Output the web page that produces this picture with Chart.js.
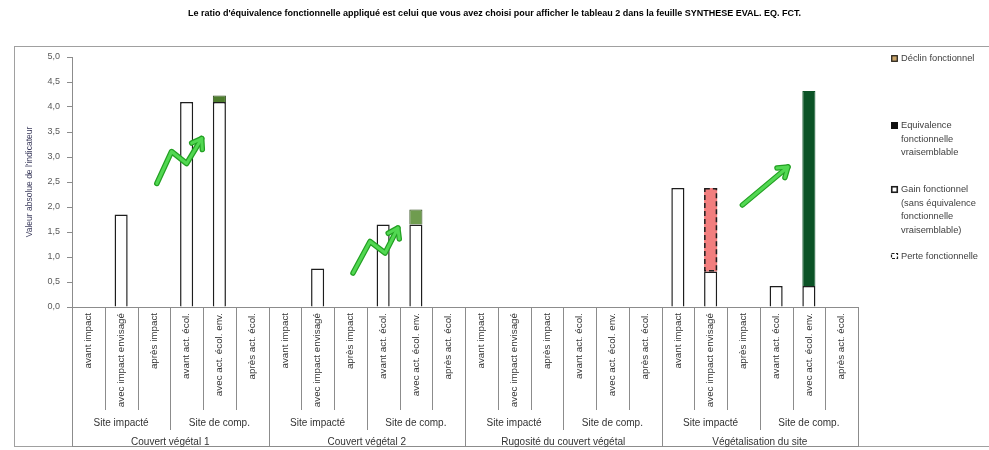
<!DOCTYPE html>
<html>
<head>
<meta charset="utf-8">
<script src="https://cdn.jsdelivr.net/npm/chart.js@4.4.1/dist/chart.umd.min.js"></script>
<style>
  html, body { margin: 0; padding: 0; background: #ffffff; }
  #wrap { width: 989px; height: 450px; }
</style>
</head>
<body>
<div id="wrap"><canvas id="chart" width="989" height="450"></canvas></div>
<script>
// ---- Data ----
const mainGroups = ['Couvert végétal 1', 'Couvert végétal 2', 'Rugosité du couvert végétal', 'Végétalisation du site'];
const siteGroups = ['Site impacté', 'Site de comp.'];
const stages = ['avant impact', 'avec impact envisagé', 'après impact', 'avant act. écol.', 'avec act. écol. env.', 'après act. écol.'];
const categories = mainGroups.flatMap(() => stages);

// Gain fonctionnel (sans équivalence fonctionnelle vraisemblable)
const gainValues = [
  0, 1.85, 0, 4.1, 4.1, 0,
  0, 0.77, 0, 1.65, 1.65, 0,
  0, 0, 0, 0, 0, 0,
  2.38, 0.71, 0, 0.42, 0.42, 0
];
// Perte fonctionnelle
const perteValues = [
  0, 0, 0, 0, 0, 0,
  0, 0, 0, 0, 0, 0,
  0, 0, 0, 0, 0, 0,
  0, 1.67, 0, 0, 0, 0
];
// Equivalence fonctionnelle vraisemblable
const equivValues = [
  0, 0, 0, 0, 0.13, 0,
  0, 0, 0, 0, 0.30, 0,
  0, 0, 0, 0, 0, 0,
  0, 0, 0, 0, 3.9, 0
];
// Déclin fonctionnel
const declinValues = [
  0, 0, 0, 0, 0, 0,
  0, 0, 0, 0, 0, 0,
  0, 0, 0, 0, 0, 0,
  0, 0, 0, 0, 0, 0
];
const yTickLabels = ['0,0', '0,5', '1,0', '1,5', '2,0', '2,5', '3,0', '3,5', '4,0', '4,5', '5,0'];

const titleText = "Le ratio d'équivalence fonctionnelle appliqué est celui que vous avez choisi pour afficher le tableau 2 dans la feuille SYNTHESE EVAL. EQ. FCT.";
const yTitle = "Valeur absolue de l'indicateur";

// Trend arrows, as [category index, value] points along each stroke
const trendArrows = [
  [[2.09, 2.47], [2.54, 3.11], [3.0, 2.87], [3.46, 3.37]],
  [[8.08, 0.68], [8.6, 1.31], [9.06, 1.08], [9.45, 1.58]],
  [[19.97, 2.04], [21.36, 2.8]]
];

// ---- Styles ----
const FONT = "'Liberation Sans', Arial, sans-serif";
const LINE = '#8c8c8c';
const TEXT = '#333333';
const equivColors = categories.map((c, i) => (i < 18 ? (i < 6 ? '#4d7d2d' : '#6f9c4f') : '#0b5326'));
const equivBorders = categories.map((c, i) => (i < 18 ? '#2c4a1a' : '#0b5326'));

const datasets = [
  {
    label: 'Gain fonctionnel (sans équivalence fonctionnelle vraisemblable)',
    legendLines: ['Gain fonctionnel', '(sans équivalence', 'fonctionnelle', 'vraisemblable)'],
    data: gainValues,
    backgroundColor: '#ffffff',
    borderColor: '#1e1e1e',
    borderWidth: 1.5
  },
  {
    label: 'Perte fonctionnelle',
    legendLines: ['Perte fonctionnelle'],
    data: perteValues,
    backgroundColor: '#f27e7e',
    borderColor: '#1e1e1e',
    borderWidth: 0
  },
  {
    label: 'Equivalence fonctionnelle vraisemblable',
    legendLines: ['Equivalence', 'fonctionnelle', 'vraisemblable'],
    data: equivValues,
    backgroundColor: equivColors,
    borderColor: equivBorders,
    borderWidth: 1
  },
  {
    label: 'Déclin fonctionnel',
    legendLines: ['Déclin fonctionnel'],
    data: declinValues,
    backgroundColor: '#c9a56a',
    borderColor: '#1e1e1e',
    borderWidth: 1
  }
];

// Dashed outline around the loss segments
const dashedLoss = {
  id: 'dashedLoss',
  afterDatasetsDraw(chart) {
    const ctx = chart.ctx;
    const meta = chart.getDatasetMeta(1);
    ctx.save();
    ctx.strokeStyle = '#1e1e1e';
    ctx.lineWidth = 1.5;
    ctx.setLineDash([5, 3]);
    meta.data.forEach((bar, i) => {
      if (!perteValues[i]) return;
      const p = bar.getProps(['x', 'y', 'base', 'width'], true);
      ctx.strokeRect(p.x - p.width / 2 + 0.75, p.y + 0.75, p.width - 1.5, p.base - p.y - 1.5);
    });
    ctx.restore();
  }
};

// Hand-drawn style trend arrows
const arrows = {
  id: 'arrows',
  afterDatasetsDraw(chart) {
    const ctx = chart.ctx;
    const xs = chart.scales.x, ys = chart.scales.y;
    trendArrows.forEach(path => {
      const pts = path.map(([i, v]) => [xs.getPixelForValue(i), ys.getPixelForValue(v)]);
      const [ax, ay] = pts[pts.length - 2];
      const [bx, by] = pts[pts.length - 1];
      const ang = Math.atan2(by - ay, bx - ax);
      const head = 11;
      const h1 = [bx - head * Math.cos(ang - 0.6), by - head * Math.sin(ang - 0.6)];
      const h2 = [bx - head * Math.cos(ang + 0.6), by - head * Math.sin(ang + 0.6)];
      const strokeAll = () => {
        ctx.beginPath();
        pts.forEach(([x, y], k) => (k ? ctx.lineTo(x, y) : ctx.moveTo(x, y)));
        ctx.stroke();
        ctx.beginPath();
        ctx.moveTo(h1[0], h1[1]);
        ctx.lineTo(bx, by);
        ctx.lineTo(h2[0], h2[1]);
        ctx.stroke();
      };
      ctx.save();
      ctx.lineJoin = 'round';
      ctx.lineCap = 'round';
      ctx.strokeStyle = '#23a023';
      ctx.lineWidth = 5.5;
      strokeAll();
      ctx.strokeStyle = '#52d852';
      ctx.lineWidth = 3;
      strokeAll();
      ctx.restore();
    });
  }
};

// Frame, multi-level category table and side legend
const frameTable = {
  id: 'frameTable',
  afterDraw(chart) {
    const ctx = chart.ctx;
    const xs = chart.scales.x, ys = chart.scales.y;
    const n = categories.length;
    const top = ys.bottom;
    const bottom = 447;
    const bound = i => {
      if (i === 0) return xs.left;
      if (i === n) return xs.right;
      return (xs.getPixelForValue(i - 1) + xs.getPixelForValue(i)) / 2;
    };
    ctx.save();
    // outer frame
    ctx.strokeStyle = '#a0a0a0';
    ctx.lineWidth = 1;
    ctx.strokeRect(14.5, 46.5, 1000, 400);
    // table separators
    ctx.strokeStyle = LINE;
    for (let i = 0; i <= n; i++) {
      const x = Math.round(bound(i)) + 0.5;
      let yEnd = 410;
      if (i % 6 === 0) yEnd = bottom;
      else if (i % 3 === 0) yEnd = 430;
      ctx.beginPath();
      ctx.moveTo(x, top);
      ctx.lineTo(x, yEnd);
      ctx.stroke();
    }
    ctx.beginPath();
    ctx.moveTo(xs.left, bottom - 0.5);
    ctx.lineTo(xs.right, bottom - 0.5);
    ctx.stroke();
    // group labels
    ctx.fillStyle = TEXT;
    ctx.textAlign = 'center';
    ctx.textBaseline = 'middle';
    ctx.font = `10px ${FONT}`;
    mainGroups.forEach((g, gi) => {
      siteGroups.forEach((s, si) => {
        const a = gi * 6 + si * 3;
        ctx.fillText(s, (bound(a) + bound(a + 3)) / 2, 423);
      });
      ctx.fillText(g, (bound(gi * 6) + bound(gi * 6 + 6)) / 2, 442);
    });
    // legend
    const order = [3, 2, 0, 1];
    const itemY = [58, 125, 189, 256];
    const sx = 891, tx = 901, lh = 13.5;
    ctx.textAlign = 'left';
    ctx.font = `9.3px ${FONT}`;
    ctx.fillStyle = '#404040';
    order.forEach((di, k) => {
      const ds = chart.data.datasets[di];
      const y0 = itemY[k];
      ctx.save();
      if (di === 1) {
        ctx.fillStyle = '#ffffff';
        ctx.fillRect(sx, y0 - 3, 7, 6);
        ctx.strokeStyle = '#1e1e1e';
        ctx.lineWidth = 1.2;
        ctx.setLineDash([3, 1.5]);
        ctx.strokeRect(sx + 0.5, y0 - 2.5, 6, 5);
      } else if (di === 2) {
        ctx.fillStyle = '#111111';
        ctx.fillRect(sx, y0 - 3, 7, 7);
      } else {
        ctx.fillStyle = ds.backgroundColor;
        ctx.fillRect(sx, y0 - 3, 7, 7);
        ctx.strokeStyle = '#1e1e1e';
        ctx.lineWidth = di === 0 ? 1.6 : 1.2;
        ctx.strokeRect(sx + 0.75, y0 - 2.25, 5.5, 5.5);
      }
      ctx.restore();
      ds.legendLines.forEach((t, li) => ctx.fillText(t, tx, y0 + li * lh + 0.5));
    });
    ctx.restore();
  }
};

new Chart(document.getElementById('chart'), {
  type: 'bar',
  data: { labels: categories, datasets },
  plugins: [dashedLoss, arrows, frameTable],
  options: {
    responsive: false,
    animation: false,
    devicePixelRatio: 1,
    layout: { padding: 0 },
    datasets: { bar: { barPercentage: 0.4, categoryPercentage: 1 } },
    plugins: {
      legend: { display: false },
      tooltip: { enabled: false },
      title: {
        display: true,
        fullSize: true,
        text: titleText,
        color: '#000000',
        font: { family: FONT, size: 9, weight: 'bold' },
        padding: { top: 8, bottom: 38.2 }
      }
    },
    scales: {
      x: {
        stacked: true,
        offset: true,
        grid: { display: false, drawTicks: false },
        border: { display: true, color: LINE, width: 1 },
        ticks: {
          autoSkip: false,
          maxRotation: 90,
          minRotation: 90,
          padding: 6,
          color: TEXT,
          font: { family: FONT, size: 9.8 }
        },
        afterFit: s => { s.height = 143; }
      },
      y: {
        stacked: true,
        min: 0,
        max: 5,
        grid: { display: true, drawOnChartArea: false, drawTicks: true, tickLength: 5, color: LINE },
        border: { display: true, color: LINE, width: 1 },
        ticks: {
          stepSize: 0.5,
          padding: 7,
          color: '#595959',
          font: { family: FONT, size: 9 },
          callback: (v, i) => yTickLabels[i]
        },
        title: {
          display: true,
          text: yTitle,
          color: '#3b3b5c',
          font: { family: FONT, size: 8.5 },
          padding: { top: 25, bottom: 0 }
        },
        afterFit: s => { s.width = 72; }
      },
      // empty right-hand column that keeps room for the legend
      legendSpace: {
        type: 'linear',
        position: 'right',
        display: true,
        grid: { display: false, drawTicks: false },
        border: { display: false },
        ticks: { display: false },
        afterFit: s => { s.width = 131; }
      }
    }
  }
});
</script>
</body>
</html>
